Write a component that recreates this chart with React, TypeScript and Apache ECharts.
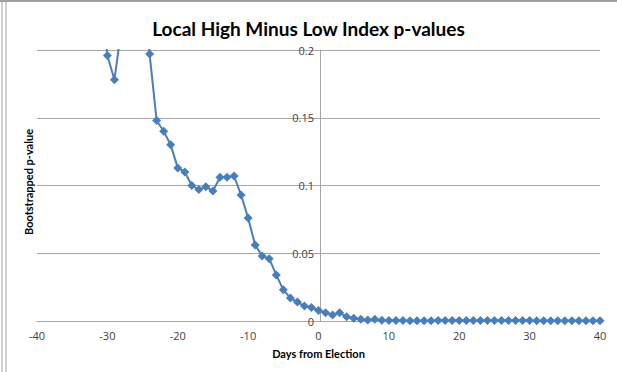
import React, { useEffect, useRef } from "react";
import * as echarts from "echarts";

const titleText = "Local High Minus Low Index p-values";
const xAxisTitle = "Days from Election";
const yAxisTitle = "Bootstrapped p-value";

const days: number[] = [];
for (let d = -31; d <= 40; d++) days.push(d);

const pValues: number[] = [
  0.244, 0.196, 0.178, 0.216, 0.26, 0.27, 0.245, 0.197,
  0.148, 0.140, 0.130, 0.113, 0.110, 0.100, 0.097, 0.099, 0.096,
  0.106, 0.106, 0.107, 0.093, 0.076, 0.056, 0.048, 0.046, 0.034,
  0.023, 0.017, 0.014, 0.011, 0.010, 0.0078,
  0.006, 0.0045, 0.006, 0.0032, 0.002, 0.0013, 0.0008, 0.0012, 0.0005,
  0.0004, 0.0003, 0.0003, 0.0002, 0.0002, 0.0002, 0.0002, 0.0003, 0.0003,
  0.0004, 0.0004, 0.0004, 0.0003, 0.0004, 0.0004, 0.0004, 0.0003, 0.0003,
  0.0003, 0.0004, 0.0003, 0.0002, 0.0002, 0.0002, 0.0002, 0.0002, 0.0002,
  0.0002, 0.0002, 0.0002, 0.0002,
];

const xTicks = { min: -40, max: 40, interval: 10 };
const yTicks = { min: 0, max: 0.2, interval: 0.05 };

export default function App() {
  const ref = useRef<HTMLDivElement>(null);
  useEffect(() => {
    if (!ref.current) return;
    const chart = echarts.init(ref.current, null, { renderer: "svg" });
    const data = days.map((d, i) => [d, pValues[i]]);
    const font = "Open Sans, Liberation Sans, sans-serif";
    chart.setOption({
      animation: false,
      backgroundColor: "#ffffff",
      title: {
        text: titleText,
        left: "center",
        top: 14,
        textStyle: { fontFamily: "Lato, Open Sans, sans-serif", fontWeight: "bold", fontSize: 19, color: "#000000" },
      },
      grid: { left: 37, right: 17, top: 50, bottom: 51 },
      xAxis: {
        type: "value",
        min: xTicks.min,
        max: xTicks.max,
        interval: xTicks.interval,
        name: xAxisTitle,
        nameLocation: "middle",
        nameGap: 27,
        nameTextStyle: { fontFamily: "Lato, Open Sans, sans-serif", fontWeight: "bold", fontSize: 11, color: "#000" },
        axisLine: { onZero: false, lineStyle: { color: "#a6a6a6", width: 1 } },
        axisTick: { show: false },
        axisLabel: { fontFamily: font, fontSize: 11, color: "#404040", margin: 9 },
        splitLine: { show: false },
      },
      yAxis: {
        type: "value",
        min: yTicks.min,
        max: yTicks.max,
        interval: yTicks.interval,
        offset: -283,
        axisLine: { show: true, onZero: false, lineStyle: { color: "#a6a6a6", width: 1 } },
        axisTick: { show: false },
        axisLabel: { fontFamily: font, fontSize: 11, color: "#404040", margin: 6 },
        splitLine: { show: true, lineStyle: { color: "#a6a6a6", width: 1 } },
      },
      graphic: [
        {
          type: "text",
          x: 28,
          y: 182,
          rotation: Math.PI / 2,
          style: {
            text: yAxisTitle,
            fontFamily: "Lato, Open Sans, sans-serif",
            fontWeight: "bold",
            fontSize: 11,
            fill: "#000",
            align: "center",
            verticalAlign: "middle",
          },
        },
        { type: "line", shape: { x1: 0, y1: 1, x2: 617, y2: 1 }, style: { stroke: "#a0a0a0", lineWidth: 2 } },
        { type: "line", shape: { x1: 2, y1: 0, x2: 2, y2: 372 }, style: { stroke: "#a0a0a0", lineWidth: 1 } },
        { type: "line", shape: { x1: 6, y1: 0, x2: 6, y2: 372 }, style: { stroke: "#a0a0a0", lineWidth: 1 } },
      ],
      series: [
        {
          type: "line",
          data,
          clip: true,
          symbol: "diamond",
          symbolSize: 9,
          itemStyle: { color: "#4a7ebb" },
          lineStyle: { color: "#4a7ebb", width: 2 },
        },
      ],
    });
    return () => chart.dispose();
  }, []);
  return (
    <div
      ref={ref}
      style={{ position: "fixed", left: 0, top: 0, width: 617, height: 372 }}
    />
  );
}
